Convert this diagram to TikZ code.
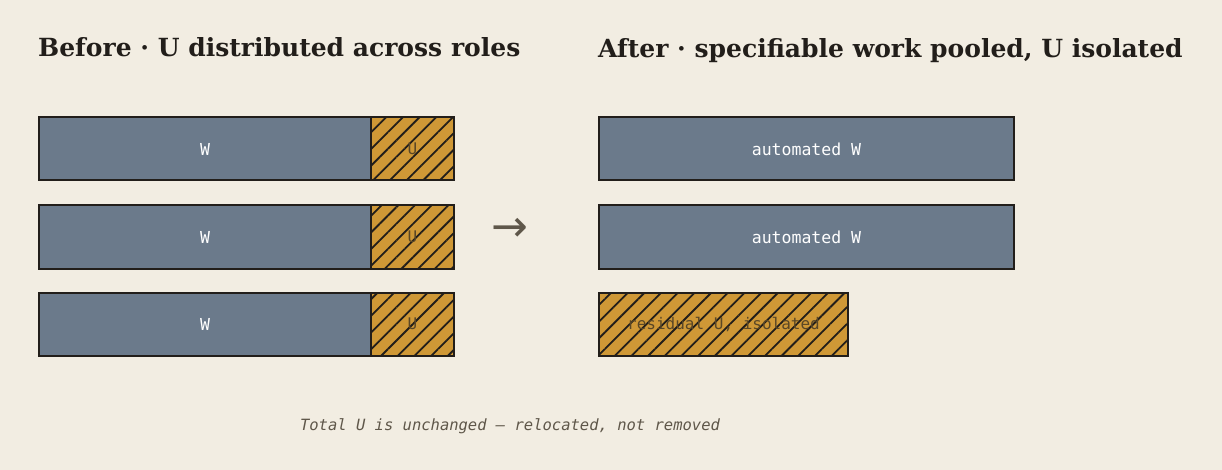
\documentclass[tikz,border=0pt]{standalone}
\usepackage{fontspec}
\setmainfont{DejaVu Serif}
\setmonofont{DejaVu Sans Mono}
\newfontfamily\arrowfont{DejaVu Sans}
\usetikzlibrary{positioning,patterns.meta}

\definecolor{paper}{HTML}{F2EDE2}
\definecolor{ink}{HTML}{221E1A}
\definecolor{slate}{HTML}{6B7A8B}
\definecolor{ochre}{HTML}{CF9836}
\definecolor{umark}{HTML}{5A4726}
\definecolor{muted}{HTML}{5F574A}

\begin{document}
\begin{tikzpicture}[x=1pt,y=-1pt,
    title/.style={anchor=base west, inner sep=0pt, text=ink, font=\bfseries\fontsize{25}{30}\selectfont},
    bar/.style={draw=ink, line width=2pt, fill=slate, text=white, inner sep=0pt, outer sep=0pt,
      minimum height=63pt, font=\ttfamily\fontsize{16.5}{20}\selectfont},
    hatched/.style={draw=ink, line width=2pt, fill=ochre, text=umark, inner sep=0pt, outer sep=0pt,
      minimum height=63pt, font=\ttfamily\fontsize{16}{20}\selectfont,
      postaction={pattern={Lines[angle=45,distance=11.8pt,line width=1.8pt]}, pattern color=ink}}]
  \useasboundingbox[fill=paper] (0,0) rectangle (1222,470);

  % titles
  \node[title] (before) at (38,57) {Before · U distributed across roles};
  \node[title] (after) at (598,58) {After · specifiable work pooled, U isolated};

  % before: every role carries its own U
  \foreach \r/\y in {1/117.5,2/205.5,3/292.5}{
    \node[bar, minimum width=332pt, anchor=north west] (w\r) at (39,\y) {W};
    \node[hatched, minimum width=83pt, right=0pt of w\r] (u\r) {U};
  }

  % shift
  \node[text=muted, inner sep=0pt, font=\arrowfont\fontsize{44}{44}\selectfont] (shift) at (510,230) {→};

  % after: W pooled, U kept apart
  \node[bar, minimum width=415pt, anchor=north west] (a1) at (599,117.5) {automated W};
  \node[bar, minimum width=415pt, anchor=north west] (a2) at (599,205.5) {automated W};
  \node[hatched, minimum width=249pt, anchor=north west] (res) at (599,292.5) {residual U, isolated};

  % note
  \node[anchor=base, inner sep=0pt, text=muted, font=\ttfamily\itshape\fontsize{15.5}{18}\selectfont] (note) at (510,430) {Total U is unchanged — relocated, not removed};
\end{tikzpicture}
\end{document}
